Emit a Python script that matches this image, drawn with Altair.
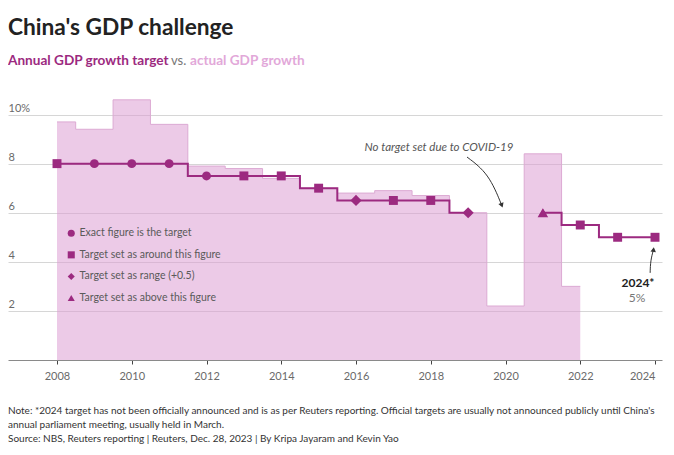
import altair as alt
import pandas as pd

# ---------------- data ----------------
actual_years = [2008, 2009, 2010, 2011, 2012, 2013, 2014, 2015, 2016, 2017, 2018, 2019, 2020, 2021, 2022]
actual_growth = [9.7, 9.4, 10.6, 9.6, 7.9, 7.8, 7.4, 7.0, 6.8, 6.9, 6.7, 6.0, 2.2, 8.4, 3.0]

target_years = [2008, 2009, 2010, 2011, 2012, 2013, 2014, 2015, 2016, 2017, 2018, 2019, 2021, 2022, 2023, 2024]
target_growth = [8.0, 8.0, 8.0, 8.0, 7.5, 7.5, 7.5, 7.0, 6.5, 6.5, 6.5, 6.0, 6.0, 5.5, 5.0, 5.0]
target_segment = [1, 1, 1, 1, 1, 1, 1, 1, 1, 1, 1, 1, 2, 2, 2, 2]
target_kind = ["Target set as around this figure", "Exact figure is the target", "Exact figure is the target",
               "Exact figure is the target", "Exact figure is the target", "Target set as around this figure",
               "Target set as around this figure", "Target set as around this figure", "Target set as range (+0.5)",
               "Target set as around this figure", "Target set as around this figure", "Target set as range (+0.5)",
               "Target set as above this figure", "Target set as around this figure", "Target set as around this figure",
               "Target set as around this figure"]

kind_order = ["Exact figure is the target", "Target set as around this figure",
              "Target set as range (+0.5)", "Target set as above this figure"]
kind_shapes = ["circle", "square", "diamond", "triangle-up"]

y_ticks = [2, 4, 6, 8, 10]
x_ticks = [2008, 2010, 2012, 2014, 2016, 2018, 2020, 2022, 2024]

# annotation arrows (in data units: year, growth %)
covid_arrow_x = [2018.97, 2019.55, 2019.90]
covid_arrow_y = [8.27, 7.60, 6.30]
label24_arrow_x = [2023.87, 2023.88, 2023.96]
label24_arrow_y = [3.55, 4.05, 4.50]

MAG = "#9c2a80"
PINK = "#dd9fd3"
FONT = "Lato"

actual_df = pd.DataFrame({"year": actual_years, "growth": actual_growth})
target_df = pd.DataFrame({"year": target_years, "growth": target_growth,
                          "seg": target_segment, "kind": target_kind})
covid_df = pd.DataFrame({"year": covid_arrow_x, "growth": covid_arrow_y, "o": [0, 1, 2]})
a24_df = pd.DataFrame({"year": label24_arrow_x, "growth": label24_arrow_y, "o": [0, 1, 2]})

xscale = alt.Scale(domain=[2006.689, 2024.187], nice=False, zero=False)
yscale = alt.Scale(domain=[0, 11], nice=False)

X = alt.X("year:Q", scale=xscale,
          axis=alt.Axis(values=x_ticks, format="d", grid=False, title=None,
                        domainColor="#8a8a8a", tickColor="#444", tickSize=4,
                        labelColor="#6a6a6a", labelFontSize=11, labelPadding=6, labelFont=FONT,
                        labelFlush=10))
Y = alt.Y("growth:Q", scale=yscale,
          axis=alt.Axis(values=y_ticks, title=None, domain=False, ticks=False, tickSize=0,
                        grid=True, gridColor="#d6d6d6", labelAlign="left", labelBaseline="bottom",
                        labelPadding=0, labelOffset=-1, labelColor="#6a6a6a", labelFontSize=11,
                        labelFont=FONT,
                        labelExpr="datum.value == 10 ? '10%' : datum.label"))

area = alt.Chart(actual_df).mark_area(
    interpolate="step", color=PINK, opacity=0.55,
    line={"color": "#dcaad3", "strokeWidth": 1, "opacity": 1}
).encode(x=X, y=Y)

line = alt.Chart(target_df).mark_line(interpolate="step", color=MAG, strokeWidth=2).encode(
    x="year:Q", y="growth:Q", detail="seg:N")

points = alt.Chart(target_df).mark_point(filled=True, color=MAG, size=80, opacity=1).encode(
    x="year:Q", y="growth:Q",
    shape=alt.Shape("kind:N", scale=alt.Scale(domain=kind_order, range=kind_shapes),
                    legend=alt.Legend(title=None, orient="none", legendX=58, legendY=138,
                                      symbolFillColor=MAG, symbolStrokeColor=MAG, symbolSize=50,
                                      symbolStrokeWidth=0, labelFont=FONT, labelFontSize=10.5,
                                      labelColor="#5a5a5a", rowPadding=10.6, labelOffset=3,
                                      padding=0)))

# slightly larger diamonds / triangles, as in the original
diamonds = alt.Chart(target_df).transform_filter(
    alt.datum.kind == kind_order[2]).mark_point(
    shape="diamond", filled=True, color=MAG, size=125, opacity=1).encode(x="year:Q", y="growth:Q")
triangles = alt.Chart(target_df).transform_filter(
    alt.datum.kind == kind_order[3]).mark_point(
    shape="triangle-up", filled=True, color=MAG, size=110, opacity=1).encode(x="year:Q", y="growth:Q")

covid_line = alt.Chart(covid_df).mark_line(interpolate="basis", color="#333", strokeWidth=1).encode(
    x="year:Q", y="growth:Q", order="o:Q")
covid_head = alt.Chart(covid_df.iloc[[2]]).mark_point(shape="triangle-down", filled=True, color="#333",
                                                       size=30, angle=340, opacity=1).encode(
    x="year:Q", y="growth:Q")

a24_line = alt.Chart(a24_df).mark_line(interpolate="basis", color="#333", strokeWidth=1).encode(
    x="year:Q", y="growth:Q", order="o:Q")
a24_head = alt.Chart(a24_df.iloc[[2]]).mark_point(shape="triangle-up", filled=True, color="#333",
                                                   size=30, angle=8, opacity=1).encode(
    x="year:Q", y="growth:Q")

def txt(s, x, y, size, color, weight="normal", style="normal", align="left"):
    return alt.Chart(pd.DataFrame({"t": [s]})).mark_text(
        align=align, baseline="alphabetic", font=FONT, fontSize=size, color=color,
        fontWeight=weight, fontStyle=style).encode(text="t:N", x=alt.value(x), y=alt.value(y))

texts = [
    txt("China's GDP challenge", 0, -55, 22.7, "#222", "bold"),
    txt("Annual GDP growth target", 0, -25, 13.6, MAG, "bold"),
    txt("vs.", 163, -25, 13, "#777"),
    txt("actual GDP growth", 182, -25, 13.6, "#e2a8d9", "bold"),
    txt("No target set due to COVID-19", 431, 61, 11.5, "#555", style="italic", align="center"),
    txt("2024*", 630, 197, 12, "#222", "bold", align="center"),
    txt("5%", 629, 212, 12, "#777", align="center"),
    txt("Note: *2024 target has not been officially announced and is as per Reuters reporting. Official targets are usually not announced publicly until China's",
        0, 324, 10, "#333"),
    txt("annual parliament meeting, usually held in March.", 0, 338, 10, "#333"),
    txt("Source: NBS, Reuters reporting | Reuters, Dec. 28, 2023 | By Kripa Jayaram and Kevin Yao",
        0, 352, 10, "#333"),
]

chart = alt.layer(area, line, points, diamonds, triangles, covid_line, covid_head, a24_line, a24_head,
                  *texts).properties(
    width=654, height=270,
    padding={"left": 0, "top": 82, "right": 4, "bottom": 86},
    autosize=alt.AutoSizeParams(type="none"),
    background="white",
).configure_view(stroke=None)

chart.save("out.html", embed_options={"renderer": "svg", "actions": False})
